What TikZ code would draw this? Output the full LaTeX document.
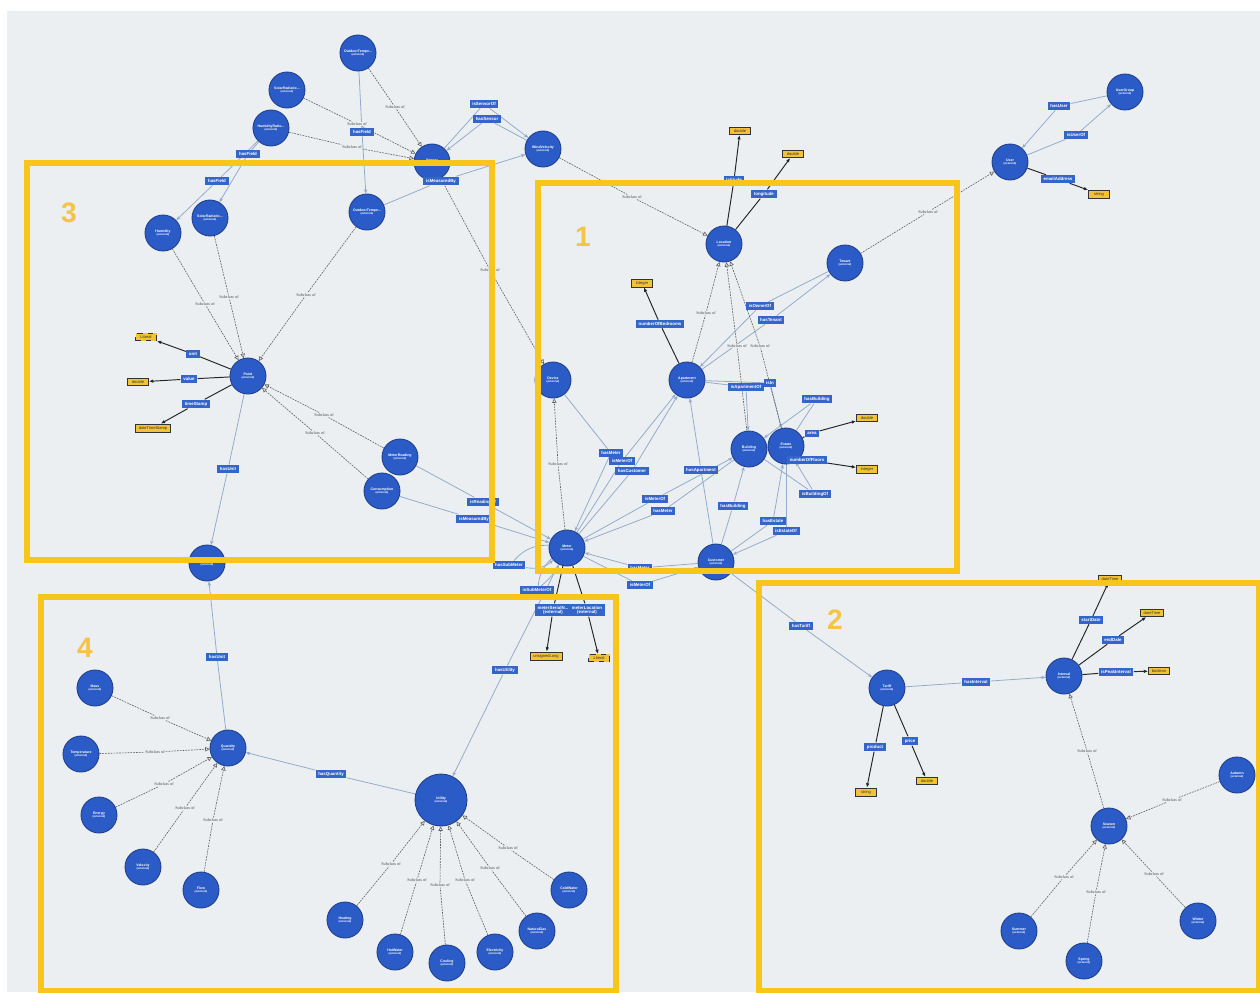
\documentclass[tikz,border=0pt]{standalone}
\usepackage{fontspec}
\setmainfont{Liberation Sans}
\newfontfamily\serfont{Liberation Serif}
\usetikzlibrary{arrows.meta,backgrounds}
\definecolor{bgc}{HTML}{ECEFF1}
\definecolor{clsfill}{HTML}{2B5BC6}
\definecolor{clsdraw}{HTML}{1F3F8A}
\definecolor{propfill}{HTML}{3466CA}
\definecolor{dtfill}{HTML}{F3C237}
\definecolor{framec}{HTML}{F8C51C}
\definecolor{numc}{HTML}{F3C445}
\definecolor{objc}{HTML}{93ABCB}
\definecolor{subc}{HTML}{606060}
\newcommand\clsname[1]{\textbf{#1}\\[-0.7pt]{\fontsize{1.6}{1.8}\selectfont\bfseries(external)}}
\newcommand\oedge[3]{\draw[objedge] (#1) -- (#2);\draw[objedge,oarr] (#2) -- (#3);}
\newcommand\sedge[3]{\draw[subedge] (#1) -- (#2);\draw[subedge,sarr] (#2) -- (#3);}
\newcommand\dedge[3]{\draw[dtedge] (#1) -- (#2);\draw[dtedge,darr] (#2) -- (#3);}
\tikzset{
 cls/.style={circle,fill=clsfill,draw=clsdraw,line width=0.5pt,minimum size=0.72cm,inner sep=0pt,text=white,align=center,font=\fontsize{2}{2.4}\selectfont},
 bigcls/.style={cls,minimum size=1.04cm},
 prop/.style={rectangle,fill=propfill,text=white,align=center,font=\fontsize{2.5}{2.8}\selectfont\bfseries,inner xsep=1.5pt,inner ysep=1.3pt},
 dtype/.style={rectangle,fill=dtfill,draw=black!80,line width=0.4pt,text=black!80,font=\fontsize{2.3}{3}\selectfont,inner xsep=1.8pt,inner ysep=1.2pt,minimum width=0.42cm},
 dtlit/.style={dtype,dashed},
 sublbl/.style={font=\fontsize{2.4}{3}\selectfont\serfont,text=black!70,fill=bgc,inner sep=0.4pt},
 objedge/.style={draw=objc,line width=0.45pt},
 oarr/.style={-{Stealth[length=2.5pt,width=2pt]}},
 subedge/.style={draw=subc,line width=0.35pt,dash pattern=on 1pt off 0.6pt},
 sarr/.style={-{Triangle[open,length=2.5pt,width=2.5pt]}},
 dtedge/.style={draw=black!85,line width=0.55pt},
 darr/.style={-{Latex[length=2.5pt,width=2pt]}},
 hilite/.style={draw=framec,line width=2.9pt},
 fnum/.style={text=numc,font=\fontsize{16}{16}\selectfont\bfseries},
}
\begin{document}
\begin{tikzpicture}[x=0.02cm,y=-0.02cm]
\useasboundingbox (0,0) rectangle (1260,992);
% ---------- classes ----------
\node[cls] (OTa) at (358,53) {\clsname{OutdoorTempe...}};
\node[cls] (SR1) at (287,90) {\clsname{SolarRadiatio...}};
\node[cls] (HR) at (271,128) {\clsname{HumidityRatio...}};
\node[cls] (SEN) at (432,162) {\clsname{Sensor}};
\node[cls] (WV) at (543,149) {\clsname{WindVelocity}};
\node[cls] (OTb) at (367,212) {\clsname{OutdoorTempe...}};
\node[cls] (HUM) at (163,233) {\clsname{Humidity}};
\node[cls] (SRb) at (210,218) {\clsname{SolarRadiatio...}};
\node[cls] (PT) at (248,376) {\clsname{Point}};
\node[cls] (MR) at (400,457) {\clsname{MeterReading}};
\node[cls] (CON) at (382,491) {\clsname{Consumption}};
\node[cls] (UN) at (207,563) {\clsname{Unit}};
\node[cls] (QT) at (228,748) {\clsname{Quantity}};
\node[cls] (MASS) at (95,688) {\clsname{Mass}};
\node[cls] (TEMP) at (81,754) {\clsname{Temperature}};
\node[cls] (EN) at (99,815) {\clsname{Energy}};
\node[cls] (VEL) at (143,867) {\clsname{Velocity}};
\node[cls] (FLOW) at (201,890) {\clsname{Flow}};
\node[bigcls] (UT) at (441,800) {\clsname{Utility}};
\node[cls] (HEAT) at (345,920) {\clsname{Heating}};
\node[cls] (HW) at (395,952) {\clsname{HotWater}};
\node[cls] (COOL) at (447,963) {\clsname{Cooling}};
\node[cls] (ELEC) at (495,952) {\clsname{Electricity}};
\node[cls] (NG) at (537,931) {\clsname{NaturalGas}};
\node[cls] (CW) at (569,890) {\clsname{ColdWater}};
\node[cls] (MET) at (567,548) {\clsname{Meter}};
\node[cls] (DEV) at (553,380) {\clsname{Device}};
\node[cls] (APT) at (687,380) {\clsname{Apartment}};
\node[cls] (LOC) at (724,244) {\clsname{Location}};
\node[cls] (TEN) at (845,263) {\clsname{Tenant}};
\node[cls] (BLD) at (749,449) {\clsname{Building}};
\node[cls] (EST) at (786,446) {\clsname{Estate}};
\node[cls] (CUS) at (716,562) {\clsname{Customer}};
\node[cls] (USR) at (1010,162) {\clsname{User}};
\node[cls] (UG) at (1125,92) {\clsname{UserGroup}};
\node[cls] (TAR) at (887,688) {\clsname{Tariff}};
\node[cls] (INT) at (1064,676) {\clsname{Interval}};
\node[cls] (SEA) at (1109,826) {\clsname{Season}};
\node[cls] (AUT) at (1237,775) {\clsname{Autumn}};
\node[cls] (SUM) at (1019,931) {\clsname{Summer}};
\node[cls] (SPR) at (1084,961) {\clsname{Spring}};
\node[cls] (WIN) at (1198,921) {\clsname{Winter}};
% ---------- datatypes ----------
\node[dtlit] (d1) at (146,337) {Literal};
\node[dtype] (d2) at (138,382) {double};
\node[dtype] (d3) at (153,428) {dateTimeStamp};
\node[dtype] (d4) at (546,656) {unsignedLong};
\node[dtlit] (d5) at (599,658) {Literal};
\node[dtype] (d6) at (642,283) {integer};
\node[dtype] (d7) at (867,418) {double};
\node[dtype] (d8) at (867,469) {integer};
\node[dtype] (d9) at (740,131) {double};
\node[dtype] (d10) at (793,154) {double};
\node[dtype] (d11) at (1099,194) {string};
\node[dtype] (d12) at (866,792) {string};
\node[dtype] (d13) at (927,781) {double};
\node[dtype] (d14) at (1110,579) {dateTime};
\node[dtype] (d15) at (1152,613) {dateTime};
\node[dtype] (d16) at (1159,671) {boolean};
% ---------- property labels ----------
\node[prop] (p1) at (362,132) {hasField};
\node[prop] (p2) at (248,154) {hasField};
\node[prop] (p3) at (217,181) {hasField};
\node[prop] (p4) at (484,104) {isSensorOf};
\node[prop] (p5) at (487,119) {hasSensor};
\node[prop] (p6) at (441,181) {isMeasuredBy};
\node[prop] (p7) at (193,354) {unit};
\node[prop] (p8) at (189,379) {value};
\node[prop] (p9) at (196,404) {timeStamp};
\node[prop] (p10) at (228,469) {hasUnit};
\node[prop] (p11) at (217,657) {hasUnit};
\node[prop] (p12) at (331,774) {hasQuantity};
\node[prop] (p13) at (505,670) {hasUtility};
\node[prop] (p14) at (483,502) {isReadingOf};
\node[prop] (p15) at (474,519) {isMeasuredBy};
\node[prop] (p16) at (509,565) {hasSubMeter};
\node[prop] (p17) at (537,590) {isSubMeterOf};
\node[prop] (p18) at (553,610) {meterSerialN...\\[-0.5pt](external)};
\node[prop] (p19) at (587,610) {meterLocation\\[-0.5pt](external)};
\node[prop] (p20) at (611,453) {hasMeter};
\node[prop] (p21) at (622,461) {isMeterOf};
\node[prop] (p22) at (632,471) {hasCustomer};
\node[prop] (p23) at (701,470) {hasApartment};
\node[prop] (p24) at (655,499) {isMeterOf};
\node[prop] (p25) at (663,511) {hasMeter};
\node[prop] (p26) at (733,506) {hasBuilding};
\node[prop] (p27) at (773,521) {hasEstate};
\node[prop] (p28) at (786,531) {isEstateOf};
\node[prop] (p29) at (640,568) {hasMeter};
\node[prop] (p30) at (640,585) {isMeterOf};
\node[prop] (p31) at (801,626) {hasTariff};
\node[prop] (p32) at (660,324) {numberOfBedrooms};
\node[prop] (p33) at (760,306) {isOwnerOf};
\node[prop] (p34) at (771,320) {hasTenant};
\node[prop] (p35) at (746,387) {isApartmentOf};
\node[prop] (p36) at (770,383) {isIn};
\node[prop] (p37) at (817,399) {hasBuilding};
\node[prop] (p38) at (815,494) {isBuildingOf};
\node[prop] (p39) at (812,433) {area};
\node[prop] (p40) at (807,460) {numberOfFloors};
\node[prop] (p41) at (734,180) {latitude};
\node[prop] (p42) at (764,194) {longitude};
\node[prop] (p43) at (1059,106) {hasUser};
\node[prop] (p44) at (1076,135) {isUserOf};
\node[prop] (p45) at (1058,179) {emailAddress};
\node[prop] (p46) at (875,747) {product};
\node[prop] (p47) at (910,741) {price};
\node[prop] (p48) at (976,682) {hasInterval};
\node[prop] (p49) at (1091,620) {startDate};
\node[prop] (p50) at (1113,640) {endDate};
\node[prop] (p51) at (1116,672) {isPeakInterval};
% ---------- subclass labels ----------
\node[sublbl] (s1) at (395,107) {Subclass of};
\node[sublbl] (s2) at (357,124) {Subclass of};
\node[sublbl] (s3) at (352,147) {Subclass of};
\node[sublbl] (s4) at (490,270) {Subclass of};
\node[sublbl] (s5) at (632,197) {Subclass of};
\node[sublbl] (s6) at (205,304) {Subclass of};
\node[sublbl] (s7) at (229,297) {Subclass of};
\node[sublbl] (s8) at (306,295) {Subclass of};
\node[sublbl] (s9) at (324,415) {Subclass of};
\node[sublbl] (s10) at (315,433) {Subclass of};
\node[sublbl] (s11) at (558,464) {Subclass of};
\node[sublbl] (s12) at (706,313) {Subclass of};
\node[sublbl] (s13) at (737,346) {Subclass of};
\node[sublbl] (s14) at (760,346) {Subclass of};
\node[sublbl] (s15) at (928,212) {Subclass of};
\node[sublbl] (s16) at (160,718) {Subclass of};
\node[sublbl] (s17) at (155,752) {Subclass of};
\node[sublbl] (s18) at (164,784) {Subclass of};
\node[sublbl] (s19) at (185,808) {Subclass of};
\node[sublbl] (s20) at (213,820) {Subclass of};
\node[sublbl] (s21) at (391,864) {Subclass of};
\node[sublbl] (s22) at (417,880) {Subclass of};
\node[sublbl] (s23) at (440,885) {Subclass of};
\node[sublbl] (s24) at (465,880) {Subclass of};
\node[sublbl] (s25) at (490,868) {Subclass of};
\node[sublbl] (s26) at (508,848) {Subclass of};
\node[sublbl] (s27) at (1087,751) {Subclass of};
\node[sublbl] (s28) at (1172,800) {Subclass of};
\node[sublbl] (s29) at (1064,877) {Subclass of};
\node[sublbl] (s30) at (1096,892) {Subclass of};
\node[sublbl] (s31) at (1154,874) {Subclass of};
% ---------- edges (behind) ----------
\begin{scope}[on background layer]
\fill[white] (0,0) rectangle (1260,992);
\fill[bgc] (7,11) rectangle (1260,992);
% object properties
\oedge{OTa}{p1}{OTb}
\oedge{HR}{p2}{SRb}
\oedge{HR}{p3}{HUM}
\oedge{SEN}{p4}{WV}
\oedge{WV}{p5}{SEN}
\oedge{OTb}{p6}{WV}
\oedge{PT}{p10}{UN}
\oedge{QT}{p11}{UN}
\oedge{UT}{p12}{QT}
\oedge{MET}{p13}{UT}
\oedge{MR}{p14}{MET}
\oedge{CON}{p15}{MET}
\draw[objedge] (MET) to[bend right=25] (p16);
\draw[objedge,oarr] (p16) to[bend right=25] (MET);
\draw[objedge] (MET) to[bend right=20] (p17);
\draw[objedge,oarr] (p17) to[bend right=10] (MET);
\oedge{DEV}{p20}{MET}
\oedge{MET}{p21}{APT}
\oedge{MET}{p22}{APT}
\oedge{CUS}{p23}{APT}
\oedge{MET}{p24}{BLD}
\oedge{BLD}{p25}{MET}
\oedge{CUS}{p26}{BLD}
\oedge{CUS}{p27}{EST}
\oedge{EST}{p28}{CUS}
\oedge{CUS}{p29}{MET}
\oedge{MET}{p30}{CUS}
\oedge{CUS}{p31}{TAR}
\oedge{TEN}{p33}{APT}
\oedge{APT}{p34}{TEN}
\oedge{APT}{p35}{BLD}
\oedge{APT}{p36}{EST}
\oedge{EST}{p37}{BLD}
\oedge{BLD}{p38}{EST}
\oedge{UG}{p43}{USR}
\oedge{USR}{p44}{UG}
\oedge{TAR}{p48}{INT}
% datatype properties
\dedge{PT}{p7}{d1}
\dedge{PT}{p8}{d2}
\dedge{PT}{p9}{d3}
\dedge{MET}{p18}{d4}
\dedge{MET}{p19}{d5}
\dedge{APT}{p32}{d6}
\dedge{EST}{p39}{d7}
\dedge{EST}{p40}{d8}
\dedge{LOC}{p41}{d9}
\dedge{LOC}{p42}{d10}
\dedge{USR}{p45}{d11}
\dedge{TAR}{p46}{d12}
\dedge{TAR}{p47}{d13}
\dedge{INT}{p49}{d14}
\dedge{INT}{p50}{d15}
\dedge{INT}{p51}{d16}
% subclass
\sedge{OTa}{s1}{SEN}
\sedge{SR1}{s2}{SEN}
\sedge{HR}{s3}{SEN}
\sedge{SEN}{s4}{DEV}
\sedge{WV}{s5}{LOC}
\sedge{HUM}{s6}{PT}
\sedge{SRb}{s7}{PT}
\sedge{OTb}{s8}{PT}
\sedge{MR}{s9}{PT}
\sedge{CON}{s10}{PT}
\sedge{MET}{s11}{DEV}
\sedge{APT}{s12}{LOC}
\sedge{BLD}{s13}{LOC}
\sedge{EST}{s14}{LOC}
\sedge{TEN}{s15}{USR}
\sedge{MASS}{s16}{QT}
\sedge{TEMP}{s17}{QT}
\sedge{EN}{s18}{QT}
\sedge{VEL}{s19}{QT}
\sedge{FLOW}{s20}{QT}
\sedge{HEAT}{s21}{UT}
\sedge{HW}{s22}{UT}
\sedge{COOL}{s23}{UT}
\sedge{ELEC}{s24}{UT}
\sedge{NG}{s25}{UT}
\sedge{CW}{s26}{UT}
\sedge{SEA}{s27}{INT}
\sedge{AUT}{s28}{SEA}
\sedge{SUM}{s29}{SEA}
\sedge{SPR}{s30}{SEA}
\sedge{WIN}{s31}{SEA}
\end{scope}
% ---------- highlight frames ----------
\draw[hilite] (538,183) rectangle (957,571);
\draw[hilite] (759,583) rectangle (1259,991);
\draw[hilite] (27,163) rectangle (492,560);
\draw[hilite] (41,597) rectangle (616,991);
\node[fnum] (n1) at (583,237) {1};
\node[fnum] (n2) at (835,620) {2};
\node[fnum] (n3) at (69,213) {3};
\node[fnum] (n4) at (85,648) {4};
\end{tikzpicture}
\end{document}
